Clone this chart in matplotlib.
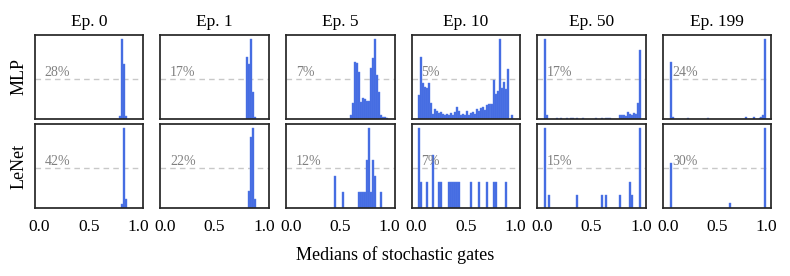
import matplotlib.pyplot as plt

plt.rcParams['font.family'] = ['Liberation Serif', 'DejaVu Serif']

epochs = ['Ep. 0', 'Ep. 1', 'Ep. 5', 'Ep. 10', 'Ep. 50', 'Ep. 199']
models = ['MLP', 'LeNet']
bin_width = 0.02

# ---------------- MLP (left bin edge, relative height) ----------------
mlp_ep0_x = [0.80, 0.82, 0.84, 0.86]
mlp_ep0_h = [0.03, 1.00, 0.68, 0.03]

mlp_ep1_x = [0.82, 0.84, 0.86, 0.88, 0.90]
mlp_ep1_h = [0.77, 0.68, 1.00, 0.33, 0.02]

mlp_ep5_x = [0.60, 0.62, 0.64, 0.66, 0.68, 0.70, 0.72, 0.74, 0.76, 0.78,
             0.80, 0.82, 0.84, 0.86, 0.88, 0.90, 0.92, 0.94, 0.96]
mlp_ep5_h = [0.05, 0.19, 0.71, 0.70, 0.58, 0.21, 0.26, 0.24, 0.22, 0.22,
             0.63, 0.76, 1.00, 0.54, 0.33, 0.04, 0.02, 0.02, 0.01]

mlp_ep10_x = [0.02, 0.04, 0.06, 0.08, 0.10, 0.12, 0.14, 0.16, 0.18, 0.20,
              0.22, 0.24, 0.26, 0.28, 0.30, 0.32, 0.34, 0.36, 0.38, 0.40,
              0.42, 0.44, 0.46, 0.48, 0.50, 0.52, 0.54, 0.56, 0.58, 0.60,
              0.62, 0.64, 0.66, 0.68, 0.70, 0.72, 0.74, 0.76, 0.78, 0.80,
              0.82, 0.84, 0.86, 0.88, 0.90, 0.92, 0.94, 0.96, 0.98]
mlp_ep10_h = [0.29, 0.77, 0.45, 0.40, 0.38, 0.45, 0.20, 0.06, 0.12, 0.09,
              0.07, 0.08, 0.06, 0.05, 0.06, 0.05, 0.07, 0.04, 0.08, 0.15,
              0.10, 0.05, 0.06, 0.04, 0.10, 0.05, 0.07, 0.08, 0.06, 0.12,
              0.10, 0.13, 0.15, 0.11, 0.17, 0.18, 0.18, 0.18, 0.48, 0.31,
              0.34, 1.00, 0.38, 0.46, 0.37, 0.62, 0.00, 0.04, 0.00]

mlp_ep50_x = [0.02, 0.04, 0.14, 0.18, 0.24, 0.28, 0.30, 0.34, 0.40, 0.54,
              0.60, 0.64, 0.66, 0.68, 0.78, 0.80, 0.82, 0.84, 0.86, 0.88,
              0.90, 0.92, 0.94, 0.96, 0.98]
mlp_ep50_h = [1.00, 0.05, 0.012, 0.012, 0.012, 0.012, 0.012, 0.012, 0.012, 0.012,
              0.012, 0.012, 0.012, 0.012, 0.04, 0.045, 0.04, 0.035, 0.08, 0.06,
              0.045, 0.07, 0.06, 0.20, 0.86]

mlp_ep199_x = [0.02, 0.04, 0.20, 0.40, 0.78, 0.86, 0.92, 0.94, 0.96, 0.98]
mlp_ep199_h = [0.71, 0.02, 0.01, 0.006, 0.015, 0.02, 0.01, 0.02, 0.05, 1.00]

# ---------------- LeNet (left bin edge, gate count) ----------------
lenet_ep0_x = [0.82, 0.84, 0.86]
lenet_ep0_h = [1, 18, 2]

lenet_ep1_x = [0.84, 0.86, 0.88, 0.90]
lenet_ep1_h = [2, 8, 9, 1]

lenet_ep5_x = [0.44, 0.52, 0.68, 0.70, 0.72, 0.74, 0.76, 0.78, 0.80, 0.82, 0.84, 0.90]
lenet_ep5_h = [2, 1, 1, 1, 1, 1, 3, 5, 1, 3, 2, 1]

lenet_ep10_x = [0.02, 0.04, 0.10, 0.16, 0.22, 0.24, 0.32, 0.34, 0.36, 0.38,
                0.40, 0.42, 0.54, 0.62, 0.70, 0.78, 0.80, 0.90]
lenet_ep10_h = [3, 1, 1, 2, 1, 1, 1, 1, 1, 1, 1, 1, 1, 1, 1, 1, 1, 1]

lenet_ep50_x = [0.02, 0.06, 0.34, 0.60, 0.64, 0.78, 0.88, 0.90, 0.98]
lenet_ep50_h = [6, 1, 1, 1, 1, 1, 2, 1, 6]

lenet_ep199_x = [0.02, 0.62, 0.98]
lenet_ep199_h = [8, 1, 14]

pct_mlp = ['28%', '17%', '7%', '5%', '17%', '24%']
pct_lenet = ['42%', '22%', '12%', '7%', '15%', '30%']

panels = [
    [(mlp_ep0_x, mlp_ep0_h), (mlp_ep1_x, mlp_ep1_h), (mlp_ep5_x, mlp_ep5_h),
     (mlp_ep10_x, mlp_ep10_h), (mlp_ep50_x, mlp_ep50_h), (mlp_ep199_x, mlp_ep199_h)],
    [(lenet_ep0_x, lenet_ep0_h), (lenet_ep1_x, lenet_ep1_h), (lenet_ep5_x, lenet_ep5_h),
     (lenet_ep10_x, lenet_ep10_h), (lenet_ep50_x, lenet_ep50_h), (lenet_ep199_x, lenet_ep199_h)],
]
pcts = [pct_mlp, pct_lenet]

fig = plt.figure(figsize=(7.9, 2.76), dpi=100)
row_bottom = [0.570, 0.2453]

for r in range(2):
    for c in range(6):
        ax = fig.add_axes([0.0439 + c * 0.159, row_bottom[r], 0.1375, 0.3043])
        x, h = panels[r][c]
        top = max(h)
        ax.bar(x, h, width=bin_width, align='edge', color='royalblue',
               edgecolor='#5b7fe8', linewidth=0.3, zorder=2)
        ax.axhline(top / 2, color='#c8c8c8', ls=(0, (4, 3)), lw=1.0, zorder=1)
        ax.text(0.05, top / 2, pcts[r][c], color='#808080', fontsize=10,
                va='bottom', ha='left', zorder=3)
        ax.set_xlim(-0.05, 1.05)
        ax.set_ylim(0, top * 1.05)
        ax.set_yticks([])
        ax.set_xticks([0.0, 0.5, 1.0])
        ax.tick_params(axis='x', length=0, pad=8, labelsize=12.5)
        if r == 0:
            ax.set_xticklabels([])
            ax.set_title(epochs[c], fontsize=12.5, pad=6)
        else:
            ax.set_xticklabels(['0.0', '0.5', '1.0'])
        for s in ax.spines.values():
            s.set_color('#262626')
            s.set_linewidth(1.25)
        if c == 0:
            ax.set_ylabel(models[r], fontsize=13, labelpad=5)

fig.text(0.5, 1 - 255 / 276, 'Medians of stochastic gates', ha='center', va='center',
         fontsize=13)

fig.savefig('out.png', dpi=100)
